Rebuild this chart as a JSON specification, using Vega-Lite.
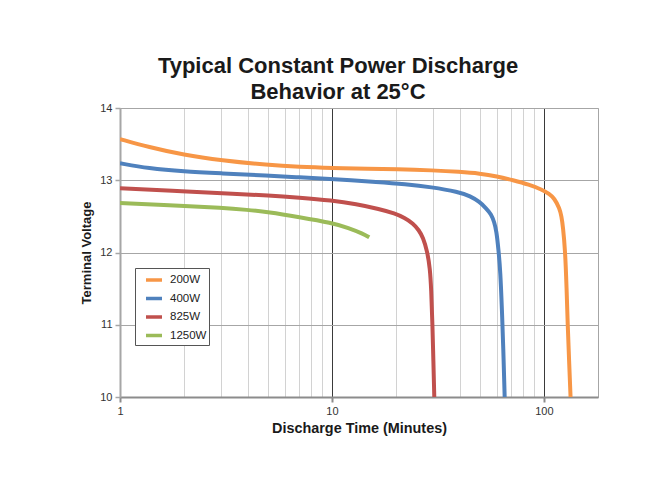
{
  "$schema": "https://vega.github.io/schema/vega-lite/v6.json",
  "autosize": {"type": "none"},
  "padding": {"left": 120, "top": 108, "right": 70, "bottom": 84},
  "width": 478,
  "height": 289,
  "background": "white",
  "title": {
    "text": ["Typical Constant Power Discharge", "Behavior at 25°C"],
    "font": "Liberation Sans",
    "fontSize": 22,
    "fontWeight": "bold",
    "color": "#1a1a1a",
    "lineHeight": 26,
    "anchor": "middle",
    "frame": "group",
    "offset": -2,
    "dx": -21
  },
  "config": {
    "view": {"stroke": "#a6a6a6", "strokeWidth": 1},
    "axis": {
      "labelFont": "Liberation Sans",
      "labelFontSize": 11,
      "labelColor": "#333",
      "titleFontWeight": "bold",
      "titleColor": "#1a1a1a"
    }
  },
  "data": {
    "values": [
      {"p": "200W", "t": 1, "v": 13.57},
      {"p": "200W", "t": 1.36, "v": 13.46},
      {"p": "200W", "t": 2, "v": 13.35},
      {"p": "200W", "t": 3, "v": 13.275},
      {"p": "200W", "t": 5, "v": 13.21},
      {"p": "200W", "t": 7, "v": 13.185},
      {"p": "200W", "t": 10, "v": 13.17},
      {"p": "200W", "t": 15, "v": 13.16},
      {"p": "200W", "t": 20, "v": 13.155},
      {"p": "200W", "t": 30, "v": 13.137},
      {"p": "200W", "t": 40, "v": 13.117},
      {"p": "200W", "t": 50, "v": 13.093},
      {"p": "200W", "t": 60, "v": 13.055},
      {"p": "200W", "t": 71.5, "v": 13.0},
      {"p": "200W", "t": 85, "v": 12.94},
      {"p": "200W", "t": 98, "v": 12.87},
      {"p": "200W", "t": 106, "v": 12.81},
      {"p": "200W", "t": 112, "v": 12.75},
      {"p": "200W", "t": 118.6, "v": 12.61},
      {"p": "200W", "t": 121, "v": 12.5},
      {"p": "200W", "t": 123, "v": 12.36},
      {"p": "200W", "t": 126, "v": 12.03},
      {"p": "200W", "t": 128, "v": 11.5},
      {"p": "200W", "t": 129.5, "v": 11.0},
      {"p": "200W", "t": 131.5, "v": 10.5},
      {"p": "200W", "t": 133.6, "v": 10.0},
      {"p": "400W", "t": 1, "v": 13.235},
      {"p": "400W", "t": 1.36, "v": 13.165},
      {"p": "400W", "t": 2, "v": 13.12},
      {"p": "400W", "t": 3, "v": 13.096},
      {"p": "400W", "t": 5, "v": 13.065},
      {"p": "400W", "t": 7, "v": 13.04},
      {"p": "400W", "t": 10, "v": 13.015},
      {"p": "400W", "t": 16.8, "v": 12.975},
      {"p": "400W", "t": 22, "v": 12.948},
      {"p": "400W", "t": 29.5, "v": 12.905},
      {"p": "400W", "t": 39.4, "v": 12.84},
      {"p": "400W", "t": 45, "v": 12.78},
      {"p": "400W", "t": 49.8, "v": 12.7},
      {"p": "400W", "t": 53, "v": 12.62},
      {"p": "400W", "t": 56.5, "v": 12.53},
      {"p": "400W", "t": 58.3, "v": 12.42},
      {"p": "400W", "t": 59.7, "v": 12.3},
      {"p": "400W", "t": 61, "v": 12.05},
      {"p": "400W", "t": 62.3, "v": 11.75},
      {"p": "400W", "t": 63.4, "v": 11.2},
      {"p": "400W", "t": 64.3, "v": 10.7},
      {"p": "400W", "t": 65.3, "v": 10.0},
      {"p": "825W", "t": 1, "v": 12.89},
      {"p": "825W", "t": 2, "v": 12.845},
      {"p": "825W", "t": 3.5, "v": 12.81},
      {"p": "825W", "t": 5, "v": 12.79},
      {"p": "825W", "t": 7, "v": 12.76},
      {"p": "825W", "t": 10, "v": 12.72},
      {"p": "825W", "t": 13, "v": 12.67},
      {"p": "825W", "t": 16.8, "v": 12.6},
      {"p": "825W", "t": 19.8, "v": 12.54},
      {"p": "825W", "t": 22, "v": 12.48},
      {"p": "825W", "t": 24.2, "v": 12.4},
      {"p": "825W", "t": 25.7, "v": 12.31},
      {"p": "825W", "t": 26.9, "v": 12.21},
      {"p": "825W", "t": 28.2, "v": 12.01},
      {"p": "825W", "t": 29, "v": 11.78},
      {"p": "825W", "t": 29.4, "v": 11.5},
      {"p": "825W", "t": 29.8, "v": 11.0},
      {"p": "825W", "t": 30.1, "v": 10.5},
      {"p": "825W", "t": 30.4, "v": 10.0},
      {"p": "1250W", "t": 1, "v": 12.685},
      {"p": "1250W", "t": 2, "v": 12.645},
      {"p": "1250W", "t": 3, "v": 12.62},
      {"p": "1250W", "t": 4, "v": 12.59},
      {"p": "1250W", "t": 5, "v": 12.56},
      {"p": "1250W", "t": 7, "v": 12.49},
      {"p": "1250W", "t": 10, "v": 12.41},
      {"p": "1250W", "t": 12, "v": 12.34},
      {"p": "1250W", "t": 14, "v": 12.26},
      {"p": "1250W", "t": 15, "v": 12.21}
    ]
  },
  "mark": {"type": "line", "interpolate": "basis", "strokeWidth": 4, "strokeCap": "butt", "clip": true},
  "encoding": {
    "x": {
      "field": "t",
      "type": "quantitative",
      "scale": {"type": "log", "domain": [1, 180], "nice": false},
      "axis": {
        "title": "Discharge Time (Minutes)",
        "titleFont": "Liberation Sans",
        "titleFontSize": 14.4,
        "titlePadding": 5,
        "values": [1, 2, 3, 4, 5, 6, 7, 8, 9, 10, 20, 30, 40, 50, 60, 70, 80, 90, 100],
        "labelExpr": "datum.value == 1 || datum.value == 10 || datum.value == 100 ? format(datum.value, 'd') : ''",
        "labelPadding": 3,
        "labelFlush": false,
        "labelOverlap": false,
        "domainColor": "#8c8c8c",
        "domainWidth": 2,
        "tickColor": "#8c8c8c",
        "tickWidth": 2,
        "tickSize": {"condition": {"test": "datum.value == 1 || datum.value == 10 || datum.value == 100", "value": 5}, "value": 0},
        "grid": true,
        "gridColor": {"condition": {"test": "datum.value == 10 || datum.value == 100", "value": "#3a3a3a"}, "value": "#d2d2d2"},
        "gridWidth": 1
      }
    },
    "y": {
      "field": "v",
      "type": "quantitative",
      "scale": {"domain": [10, 14], "nice": false, "zero": false},
      "axis": {
        "title": "Terminal Voltage",
        "titleFont": "Liberation Sans",
        "titleFontSize": 13,
        "titlePadding": 6,
        "values": [10, 11, 12, 13, 14],
        "labelPadding": 3,
        "labelFlush": false,
        "domainColor": "#a6a6a6",
        "domainWidth": 2,
        "tickColor": "#a6a6a6",
        "tickWidth": 1.5,
        "tickSize": 5,
        "grid": true,
        "gridColor": "#a6a6a6",
        "gridWidth": 1
      }
    },
    "color": {
      "field": "p",
      "type": "nominal",
      "scale": {"domain": ["200W", "400W", "825W", "1250W"], "range": ["#F79646", "#4F81BD", "#C0504D", "#9BBB59"]},
      "legend": {
        "title": null,
        "orient": "none",
        "legendX": 15,
        "legendY": 160,
        "direction": "vertical",
        "fillColor": "white",
        "strokeColor": "#555",
        "padding": 2,
        "symbolOffset": 7,
        "symbolType": "stroke",
        "symbolSize": 256,
        "symbolStrokeWidth": 3.5,
        "labelFont": "Liberation Sans",
        "labelFontSize": 11.5,
        "labelColor": "#222",
        "labelOffset": 6,
        "labelExpr": "datum.label + '\u00a0\u00a0'",
        "rowPadding": 1.5
      }
    }
  }
}
